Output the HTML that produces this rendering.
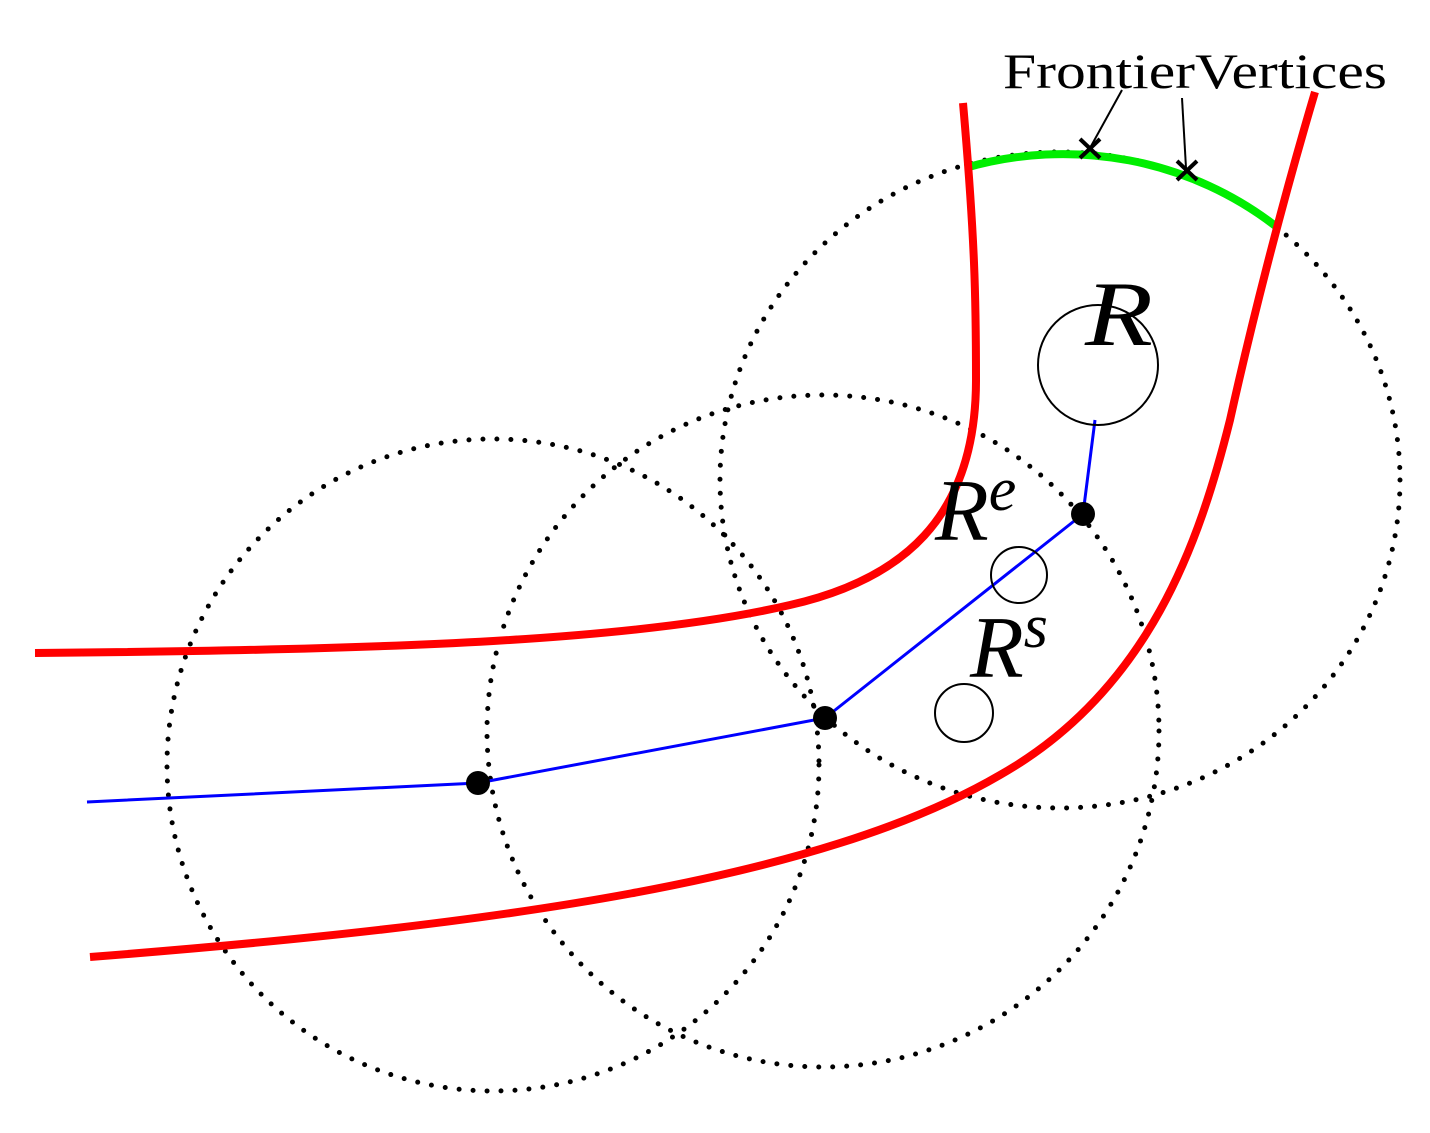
<!DOCTYPE html>
<html><head><meta charset="utf-8"><style>html,body{margin:0;padding:0;background:#fff}</style></head>
<body>
<svg width="1430" height="1128" viewBox="0 0 1430 1128" xmlns="http://www.w3.org/2000/svg">
<g fill="none" stroke="#000" stroke-width="5" stroke-dasharray="0 14" stroke-linecap="round">
<circle cx="493" cy="765" r="326"/>
<circle cx="823" cy="731" r="336"/>
<ellipse cx="1060" cy="480" rx="340" ry="328"/>
</g>
<path d="M965,168 A340,328 0 0 1 1278,228" fill="none" stroke="#00ee00" stroke-width="8"/>
<g fill="none" stroke="#ff0000" stroke-width="8">
<path d="M963,103 C975,240 976,300 976,380 C976,520 900,580 790,605 C640,640 400,650 35,653"/>
<path d="M1315,92 C1280,210 1250,330 1230,420 C1200,540 1150,690 1000,775 C820,880 500,925 90,957"/>
</g>
<polyline points="87,802 478,783 825,718 1083,514 1095,420" fill="none" stroke="#0000ff" stroke-width="3"/>
<g fill="#000"><circle cx="478" cy="783" r="12"/><circle cx="825" cy="718" r="12"/><circle cx="1083" cy="514" r="12"/></g>
<g fill="none" stroke="#000" stroke-width="2">
<circle cx="1098" cy="365" r="60"/>
<circle cx="1019" cy="575" r="28"/>
<circle cx="964" cy="713" r="29"/>
<line x1="1122" y1="90" x2="1090" y2="148"/>
<line x1="1182" y1="98" x2="1186" y2="168"/>
</g>
<g stroke="#000" stroke-width="4">
<line x1="1080" y1="139" x2="1100" y2="158"/><line x1="1100" y1="139" x2="1080" y2="158"/>
<line x1="1177" y1="161" x2="1197" y2="180"/><line x1="1197" y1="161" x2="1177" y2="180"/>
</g>
<g font-family="'Liberation Serif',serif" fill="#000">
<text x="1003" y="88" font-size="50" textLength="384" lengthAdjust="spacingAndGlyphs">FrontierVertices</text>
<text x="1085" y="345" font-size="92" font-style="italic" textLength="68" lengthAdjust="spacingAndGlyphs">R</text>
<text x="935" y="540" font-size="88" font-style="italic">R<tspan font-size="62" dy="-30">e</tspan></text>
<text x="970" y="677" font-size="88" font-style="italic">R<tspan font-size="62" dy="-30">s</tspan></text>
</g>
</svg>
</body></html>
